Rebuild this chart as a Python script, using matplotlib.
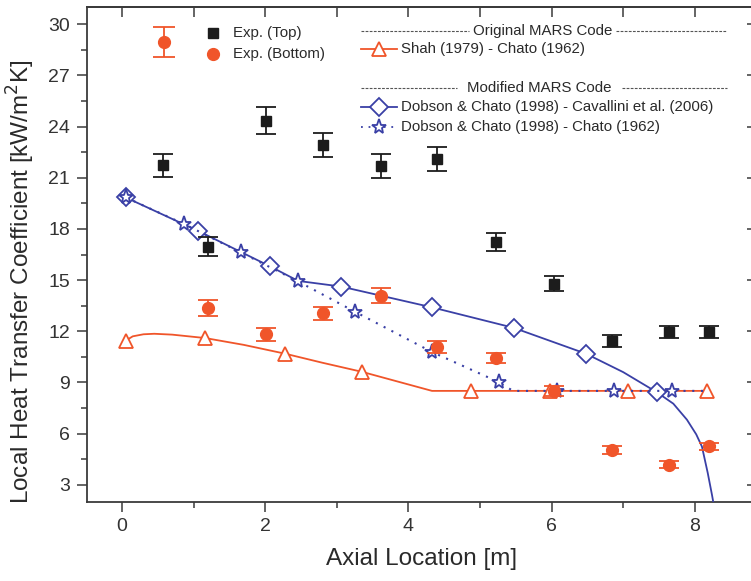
import matplotlib.pyplot as plt
import numpy as np
from matplotlib.ticker import MultipleLocator

plt.rcParams['font.family'] = ['Liberation Sans', 'DejaVu Sans']

# measured local heat transfer coefficient [kW/m2K]
exp_x = [0.57, 1.2, 2.01, 2.81, 3.62, 4.4, 5.22, 6.03, 6.84, 7.64, 8.2]
top_h = [21.73, 16.96, 24.35, 22.93, 21.68, 22.1, 17.24, 14.79, 11.45, 11.94, 11.94]
top_err = [0.67, 0.55, 0.8, 0.72, 0.7, 0.71, 0.55, 0.46, 0.35, 0.35, 0.35]
bot_x = [1.2, 2.01, 2.81, 3.62, 4.4, 5.22, 6.03, 6.84, 7.64, 8.2]
bot_h = [13.36, 11.81, 13.04, 14.09, 11.1, 10.44, 8.5, 5.05, 4.17, 5.25]
bot_err = [0.45, 0.37, 0.4, 0.44, 0.35, 0.31, 0.3, 0.23, 0.2, 0.2]

# original MARS: Shah (1979) - Chato (1962)
shah_x = [0.05, 0.15, 0.3, 0.45, 0.7, 1.16, 1.7, 2.28, 2.8, 3.35, 4.33, 4.87, 5.98, 7.07, 8.17]
shah_h = [11.44, 11.7, 11.82, 11.85, 11.8, 11.6, 11.2, 10.68, 10.15, 9.62, 8.5, 8.5, 8.5, 8.5, 8.5]
shah_marks = [0, 5, 7, 9, 11, 12, 13, 14]

# modified MARS: Dobson & Chato (1998) - Cavallini et al. (2006)
cav_x = [0.05, 1.06, 2.07, 2.46, 3.06, 4.33, 5.47, 6.48, 7.0, 7.47,
         7.7, 7.89, 8.02, 8.1, 8.18, 8.24, 8.3]
cav_h = [19.85, 17.89, 15.8, 14.95, 14.62, 13.4, 12.2, 10.68, 9.6, 8.42,
         7.75, 6.81, 5.95, 5.23, 3.7, 2.4, 1.0]
cav_marks = [0, 1, 2, 4, 5, 6, 7, 9]

# modified MARS: Dobson & Chato (1998) - Chato (1962)
chato_x = [0.05, 0.87, 1.66, 2.46, 3.25, 4.33, 5.27, 5.46, 6.07, 6.87, 7.68, 8.2]
chato_h = [19.85, 18.28, 16.62, 14.92, 13.15, 10.78, 9.0, 8.5, 8.5, 8.5, 8.5, 8.5]
chato_marks = [0, 1, 2, 3, 4, 5, 6, 8, 9, 10]

orange = '#f0552a'
blue = '#3a40a6'
dark = '#1c1c1c'
axc = '#3a3a3a'
txt = '#2a2a2a'

fig = plt.figure(figsize=(7.51, 5.81), dpi=100)
W, H = 751, 581
x0, x1, y0, y1 = 86.7, 757, 7.3, 501.7
ax = fig.add_axes([x0 / W, (H - y1) / H, (x1 - x0) / W, (y1 - y0) / H])

ax.plot(shah_x, shah_h, color=orange, lw=1.3, marker='^', ms=10, mfc='white',
        mec=orange, mew=1.3, markevery=shah_marks, zorder=3)
ax.plot(cav_x, cav_h, color=blue, lw=1.3, marker='D', ms=9, mfc='white',
        mec=blue, mew=1.3, markevery=cav_marks, zorder=3)
ax.plot(chato_x, chato_h, color=blue, lw=1.5, ls=(0, (1, 3.2)), marker='*', ms=11,
        mfc='white', mec=blue, mew=1.3, markevery=chato_marks, zorder=3)

ax.errorbar(exp_x, top_h, yerr=top_err, fmt='s', ms=7.5, color=dark, ecolor=dark,
            elinewidth=1.3, capsize=7, capthick=1.3, zorder=4)
ax.errorbar(bot_x, bot_h, yerr=bot_err, fmt='o', ms=8.5, color=orange, ecolor=orange,
            elinewidth=1.3, capsize=7, capthick=1.3, zorder=4)

ax.set_xlim(-0.493, (x1 - 122) / 71.6)
ax.set_ylim(2.0, 31.0)
ax.xaxis.set_major_locator(MultipleLocator(2))
ax.xaxis.set_minor_locator(MultipleLocator(1))
ax.yaxis.set_minor_locator(MultipleLocator(1.5))
ax.set_yticks(np.arange(3, 31, 3))
ax.tick_params(axis='both', which='major', direction='out', length=7, width=1.1,
               color=axc, labelsize=14, labelcolor='#333333', pad=5)
ax.tick_params(axis='both', which='minor', direction='out', length=4, width=1.1, color=axc)
for side in ['left', 'bottom', 'top', 'right']:
    ax.spines[side].set_color(axc)
    ax.spines[side].set_linewidth(1.3)

# inward ticks on the top and right frame
top = ax.secondary_xaxis('top')
top.set_xticks(np.arange(0, 9, 1))
top.tick_params(direction='in', length=7, width=1.1, color=axc, labeltop=False)
top.spines['top'].set_color(axc)
top.spines['top'].set_linewidth(1.3)
right = ax.secondary_yaxis('right')
right.set_yticks(np.arange(3, 31, 3))
right.tick_params(direction='in', length=7, width=1.1, color=axc, labelright=False)
right.spines['right'].set_color(axc)


def fx(px):
    return (px - x0) / (x1 - x0)


def fy(py):
    return (y1 - py) / (y1 - y0)


ax.set_xlabel('Axial Location [m]', fontsize=17.5, color=txt, labelpad=9)
ax.set_ylabel('Local Heat Transfer Coefficient [kW/m$^2$K]', fontsize=17.5, color=txt)
ax.yaxis.set_label_coords(fx(37), fy(282))

tr = ax.transAxes
fs = 10.8

# experimental legend
ax.errorbar([fx(163.5)], [fy(41.5)], yerr=[[fy(41.5) - fy(56.5)], [fy(27) - fy(41.5)]],
            fmt='o', ms=8.5, color=orange, ecolor=orange, elinewidth=1.3, capsize=8,
            capthick=1.3, transform=tr, clip_on=False)
ax.plot([fx(213)], [fy(33)], 's', ms=7.5, color=dark, transform=tr)
ax.text(fx(233), fy(33), 'Exp. (Top)', transform=tr, fontsize=fs, va='center', color=txt)
ax.plot([fx(213)], [fy(54)], 'o', ms=8.5, color=orange, transform=tr)
ax.text(fx(233), fy(54), 'Exp. (Bottom)', transform=tr, fontsize=fs, va='center', color=txt)


# model legend
def header(py, label, t0, t1):
    ax.plot([fx(361), fx(t0)], [fy(py), fy(py)], color='#555555', lw=0.8,
            ls=(0, (2.5, 1.2)), transform=tr)
    ax.plot([fx(t1), fx(727)], [fy(py), fy(py)], color='#555555', lw=0.8,
            ls=(0, (2.5, 1.2)), transform=tr)
    ax.text(fx((t0 + t1) / 2), fy(py), label, transform=tr, fontsize=fs,
            ha='center', va='center', color=txt)


header(31, 'Original MARS Code', 469, 616)
header(88, 'Modified MARS Code', 457, 622)

rows = [
    (49, 'Shah (1979) - Chato (1962)', orange, '-', '^', 10),
    (107, 'Dobson & Chato (1998) - Cavallini et al. (2006)', blue, '-', 'D', 9),
    (127, 'Dobson & Chato (1998) - Chato (1962)', blue, (0, (1, 3.2)), '*', 11),
]
for py, label, c, ls, m, ms in rows:
    ax.plot([fx(361), fx(397)], [fy(py), fy(py)], color=c, lw=1.3, ls=ls, transform=tr)
    ax.plot([fx(379)], [fy(py)], m, ms=ms, mfc='white', mec=c, mew=1.3, transform=tr)
    ax.text(fx(401), fy(py), label, transform=tr, fontsize=fs, va='center', color=txt)

fig.savefig('out.png', dpi=100)
